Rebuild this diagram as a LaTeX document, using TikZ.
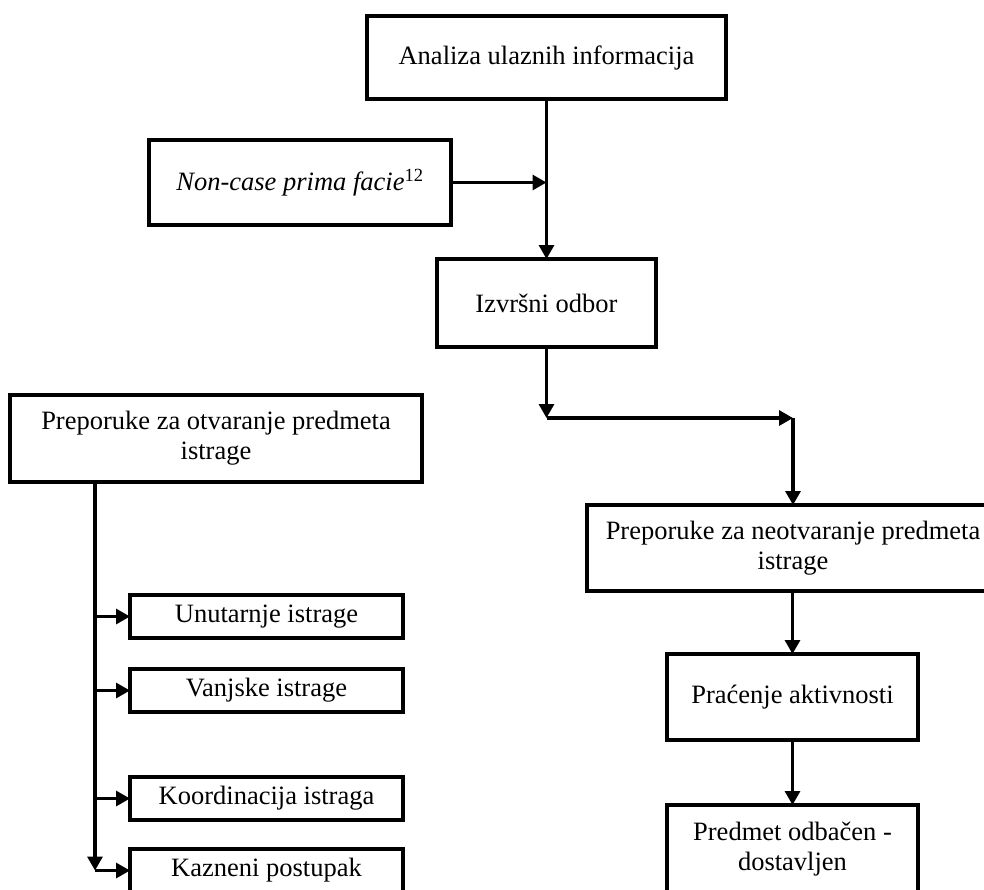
\documentclass[tikz,border=0pt]{standalone}
\usepackage{fontspec}
\setmainfont{Liberation Serif}
\usetikzlibrary{arrows.meta}
\tikzset{
  box/.style={draw=black, line width=3.2pt, inner sep=0pt, outer sep=0pt, align=center,
              font=\fontsize{26.5}{30}\selectfont},
  arr/.style={line width=3.2pt, -{Triangle[length=14pt,width=15pt]}},
  plain/.style={line width=3.2pt}
}
\begin{document}
\begin{tikzpicture}[x=1pt,y=-1pt]
\useasboundingbox (0,0) rectangle (984,889);
\clip (0,0) rectangle (984,889);
% right column
\node[box, minimum width=359pt, minimum height=83pt] (A) at (546.5,57.5) {Analiza ulaznih informacija};
\node[box, minimum width=302pt, minimum height=85pt] (N) at (300,182.5) {\textit{Non-case prima facie}\textsuperscript{12}};
\node[box, minimum width=219pt, minimum height=88pt] (I) at (546.5,303) {Izvršni odbor};
\node[box, minimum width=412pt, minimum height=86pt] (P2) at (793,548) {Preporuke za neotvaranje predmeta\\istrage};
\node[box, minimum width=251pt, minimum height=86pt] (Pr) at (792.5,697) {Praćenje aktivnosti};
\node[box, minimum width=251pt, minimum height=88pt] (Pd) at (792.5,849) {Predmet odbačen~-\\dostavljen};
% left column
\node[box, minimum width=412pt, minimum height=87pt] (P1) at (216,438.5) {Preporuke za otvaranje predmeta\\istrage};
\node[box, minimum width=273pt, minimum height=43pt] (U) at (266.5,616.5) {Unutarnje istrage};
\node[box, minimum width=273pt, minimum height=43pt] (V) at (266.5,690.5) {Vanjske istrage};
\node[box, minimum width=273pt, minimum height=43pt] (K) at (266.5,798.5) {Koordinacija istraga};
\node[box, minimum width=273pt, minimum height=43pt] (Kz) at (266.5,870.5) {Kazneni postupak};
% coordinates
\coordinate (m1) at (546.5,182.5);
\coordinate (j1) at (546.5,418);
\coordinate (j2) at (793,418);
\coordinate (l0) at (95,482);
\coordinate (lu) at (95,616.5);
\coordinate (lv) at (95,690.5);
\coordinate (lk) at (95,798.5);
\coordinate (lz) at (95,870.5);
% connectors right
\draw[arr] (A) -- (I);
\draw[arr] (N) -- (m1);
\draw[arr] (I) -- (j1);
\draw[arr] (j1) -- (j2);
\draw[arr] (j2) -- (P2);
\draw[arr] (P2.south -| Pr.north) -- (Pr);
\draw[arr] (Pr) -- (Pd);
% connectors left
\draw[arr] (l0) -- (lz);
\draw[arr] (lu) -- (U);
\draw[arr] (lv) -- (V);
\draw[arr] (lk) -- (K);
\draw[arr] (lz) -- (Kz);
\end{tikzpicture}
\end{document}
